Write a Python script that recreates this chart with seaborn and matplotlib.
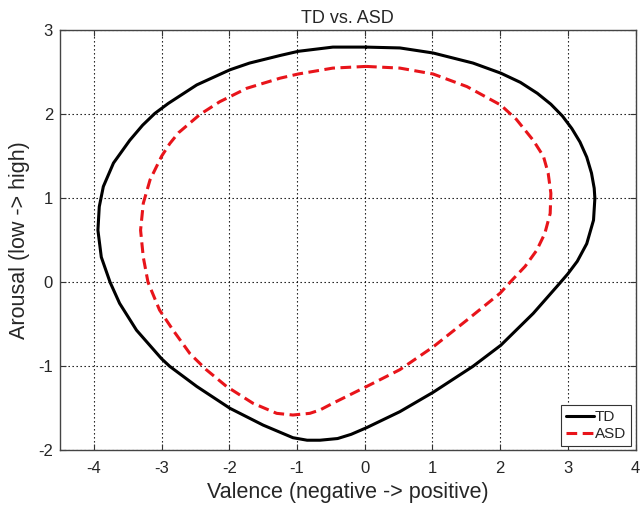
import pandas as pd
import matplotlib
matplotlib.use("Agg")
import matplotlib.pyplot as plt
import seaborn as sns

# contour points (valence, arousal), going clockwise
td_x = [0.02, 0.52, 1.01, 1.60, 2.01, 2.30, 2.55, 2.75, 2.92, 3.06, 3.18, 3.28, 3.35, 3.39, 3.40,
        3.38, 3.28, 3.14, 3.0, 2.85, 2.49, 2.01, 1.60, 1.01, 0.52, 0.03, -0.2, -0.4, -0.66, -0.85,
        -1.06, -1.50, -1.99, -2.48, -2.88, -3.0, -3.37, -3.62, -3.76, -3.89, -3.94, -3.92, -3.86,
        -3.71, -3.47, -3.28, -3.1, -2.9, -2.48, -1.99, -1.70, -1.25, -0.98, -0.47, 0.02]
td_y = [2.80, 2.79, 2.73, 2.61, 2.49, 2.38, 2.25, 2.12, 1.98, 1.83, 1.67, 1.49, 1.30, 1.12, 1.0,
        0.74, 0.46, 0.25, 0.10, -0.04, -0.37, -0.75, -1.0, -1.31, -1.54, -1.73, -1.81, -1.86, -1.88,
        -1.88, -1.85, -1.70, -1.50, -1.24, -1.0, -0.91, -0.57, -0.25, 0.0, 0.30, 0.62, 0.90, 1.14,
        1.42, 1.69, 1.87, 2.01, 2.13, 2.35, 2.53, 2.61, 2.70, 2.75, 2.80, 2.80]

asd_x = [0.02, 0.52, 1.01, 1.51, 2.01, 2.24, 2.49, 2.64, 2.71, 2.75, 2.74, 2.66, 2.54, 2.37, 2.17,
         2.0, 1.51, 1.01, 0.52, 0.03, -0.47, -0.66, -0.81, -1.06, -1.30, -1.65, -2.04, -2.34, -2.58,
         -2.83, -3.03, -3.20, -3.27, -3.31, -3.27, -3.17, -3.0, -2.88, -2.75, -2.43, -2.14, -1.74,
         -1.25, -0.98, -0.47, 0.02]
asd_y = [2.57, 2.55, 2.48, 2.33, 2.11, 1.94, 1.69, 1.50, 1.30, 1.06, 0.82, 0.58, 0.38, 0.19, 0.02,
         -0.13, -0.45, -0.77, -1.04, -1.24, -1.44, -1.52, -1.56, -1.58, -1.56, -1.44, -1.24, -1.04,
         -0.85, -0.57, -0.33, 0.0, 0.30, 0.62, 0.94, 1.22, 1.50, 1.65, 1.78, 2.0, 2.15, 2.31, 2.43,
         2.48, 2.55, 2.57]

td = pd.DataFrame({"x": td_x, "y": td_y})
asd = pd.DataFrame({"x": asd_x, "y": asd_y})

sns.set_style("white")
plt.rcParams["font.family"] = ["Liberation Sans", "DejaVu Sans"]
plt.rcParams["axes.unicode_minus"] = False

fig = plt.figure(figsize=(6.41, 5.09), dpi=100)
ax = fig.add_axes([60 / 641, 58.7 / 509, 575.5 / 641, 420 / 509])

sns.lineplot(data=td, x="x", y="y", sort=False, estimator=None, color="black",
             linewidth=2.2, label="TD", ax=ax)
sns.lineplot(data=asd, x="x", y="y", sort=False, estimator=None, color="#e8141a",
             linewidth=2.2, label="ASD", ax=ax)
ax.lines[1].set_dashes([3.5, 1.8])
for ln in ax.lines:
    ln.set_solid_joinstyle("round")
    ln.set_dash_joinstyle("round")

ax.set_xlim(-4.5, 4)
ax.set_ylim(-2, 3)
ax.set_xticks(range(-4, 5))
ax.set_yticks(range(-2, 4))
ax.grid(True, color="black", linestyle=(0, (1.2, 2.4)), linewidth=0.8)
ax.tick_params(direction="in", length=4, width=0.8, top=True, right=True, bottom=True, left=True,
               labelsize=12, color="#333333")
ax.tick_params(axis="y", pad=5)
ax.tick_params(axis="x", pad=8)
for s in ax.spines.values():
    s.set_color("#444444")
    s.set_linewidth(1.0)

ax.set_title("TD vs. ASD", fontsize=13, pad=5)
ax.set_xlabel("Valence (negative -> positive)", fontsize=15.5, labelpad=4)
ax.set_ylabel("Arousal (low -> high)", fontsize=15.5, labelpad=6)

leg = ax.legend(loc="lower right", fontsize=11, handlelength=1.8, handletextpad=0.1,
                borderpad=0.3, labelspacing=0.2, fancybox=False, framealpha=1,
                borderaxespad=0.3)
leg.get_frame().set_edgecolor("#333333")
leg.get_frame().set_linewidth(0.8)

fig.savefig("out.png", dpi=100)
